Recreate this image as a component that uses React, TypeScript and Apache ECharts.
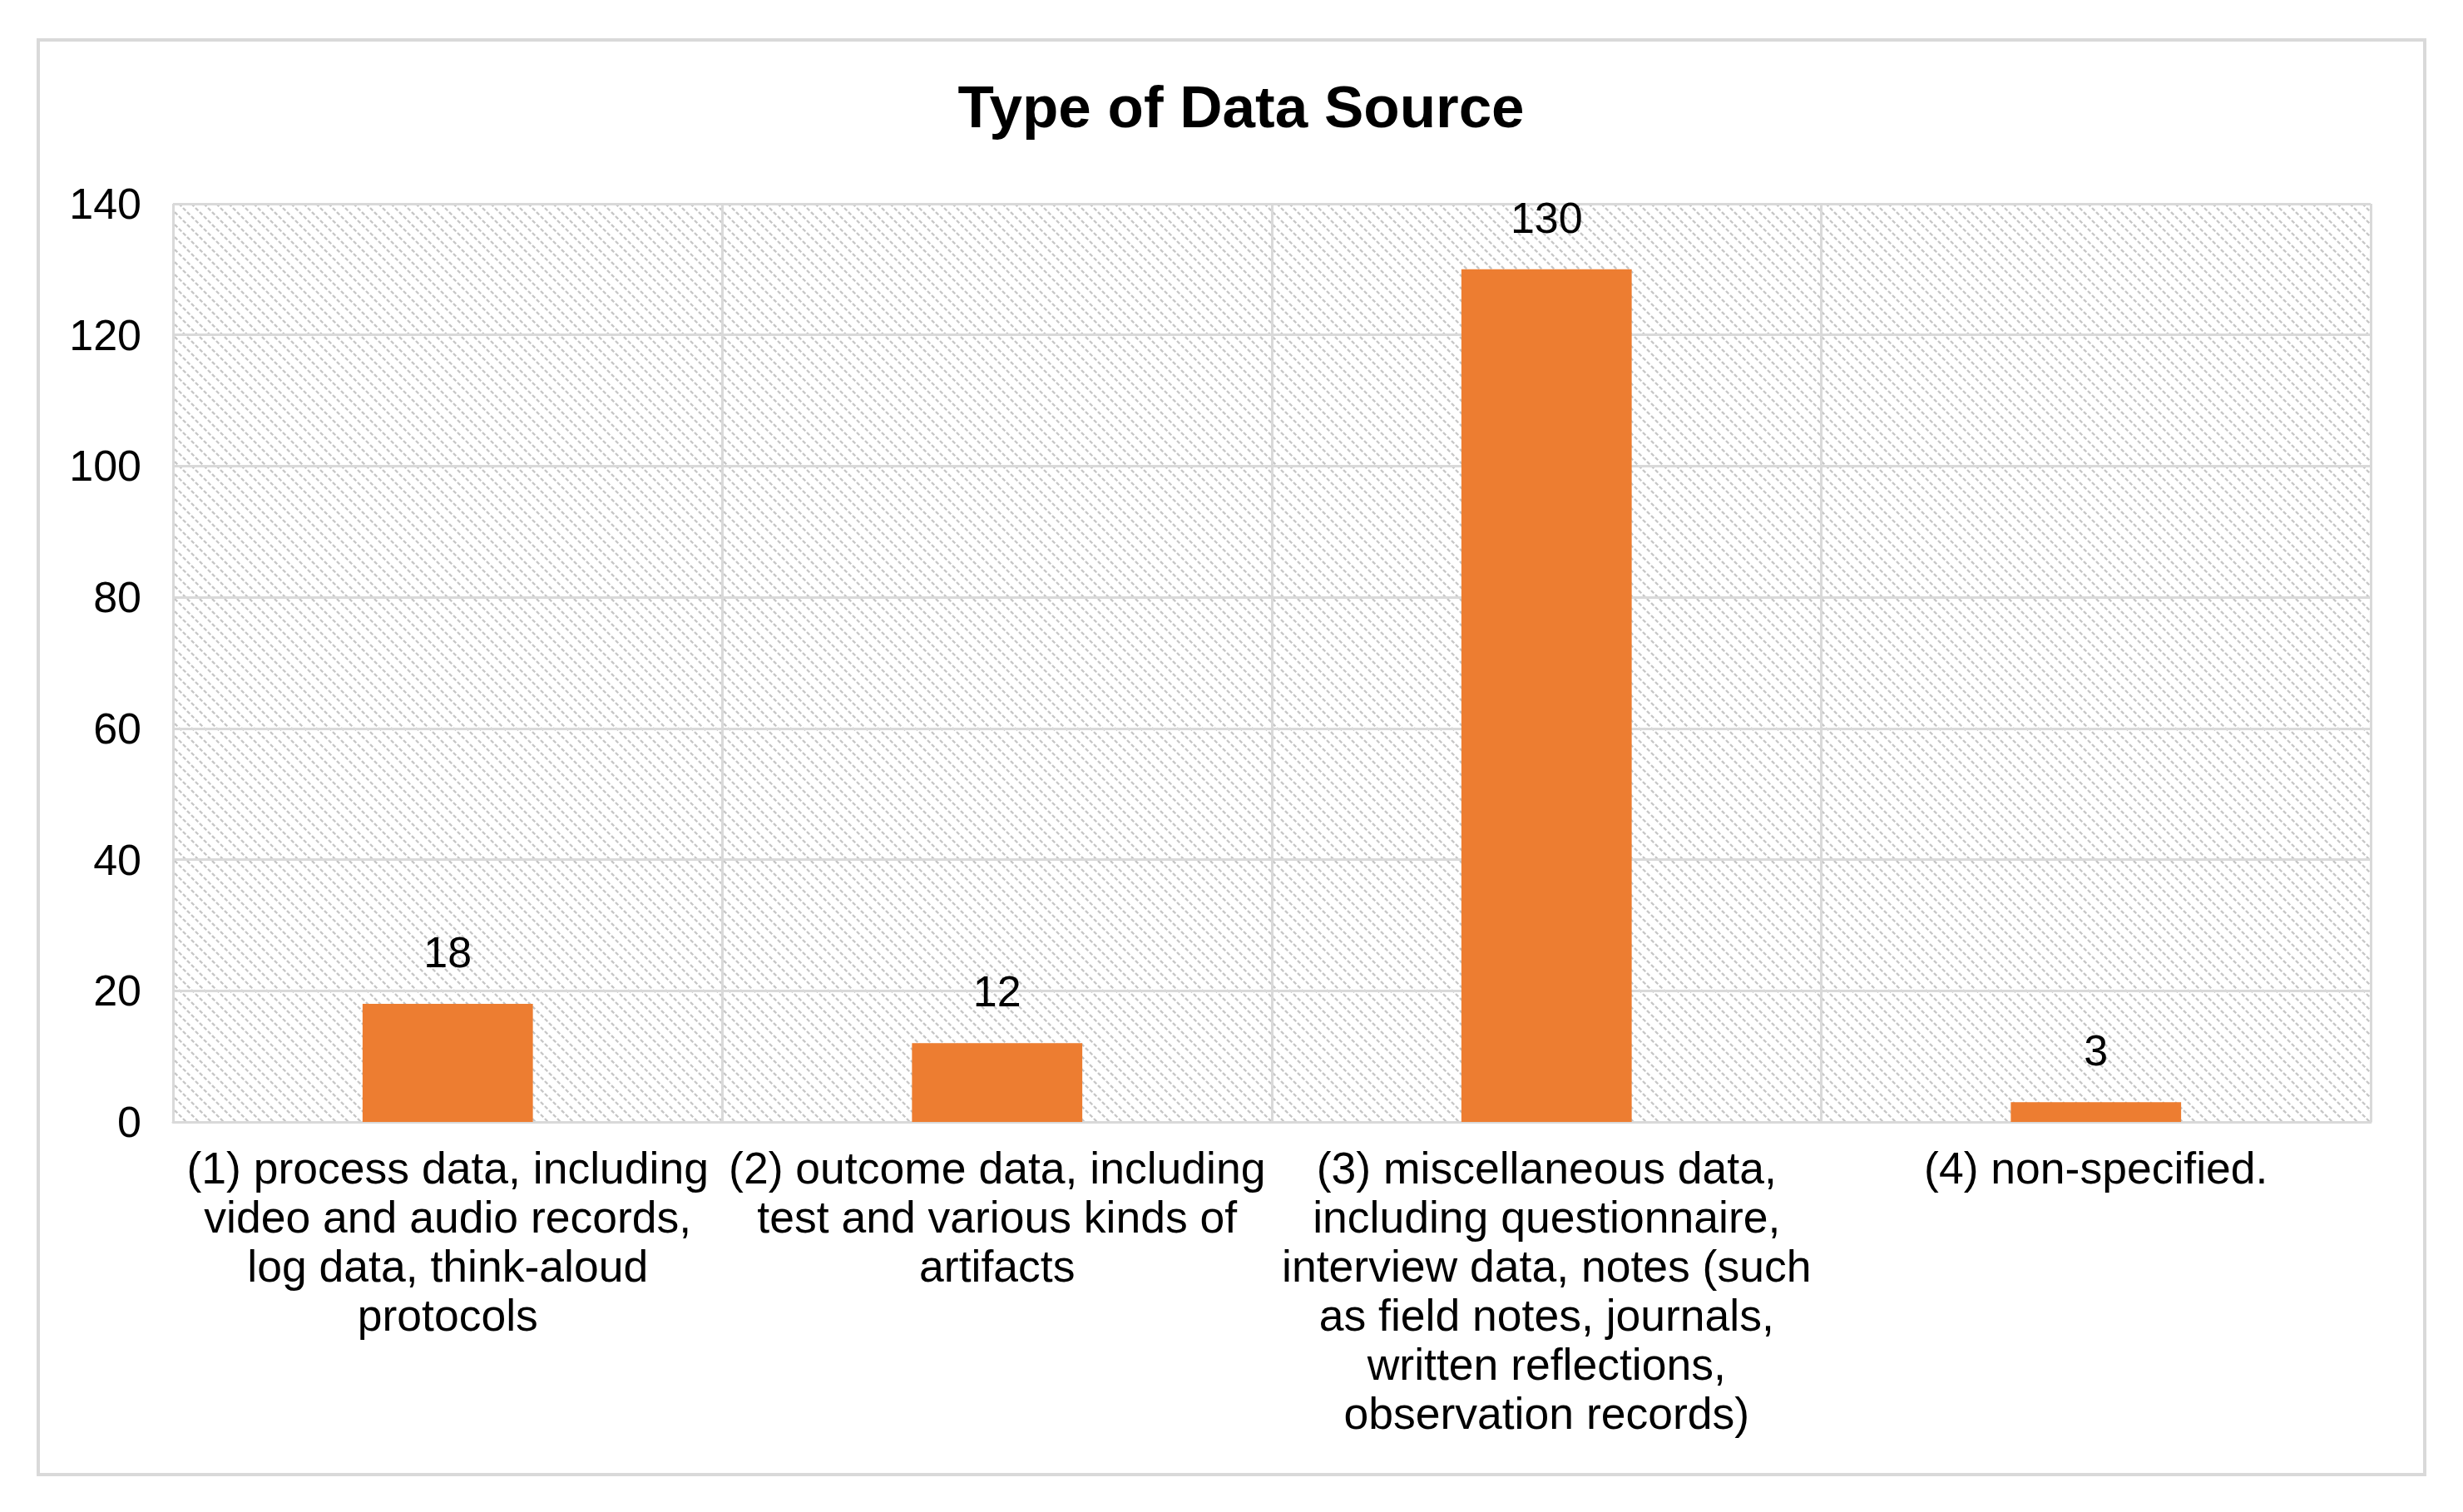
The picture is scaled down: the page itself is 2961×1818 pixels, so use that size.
import React, { useEffect, useRef } from "react";
import * as echarts from "echarts";

const titleText = "Type of Data Source";
const categories = [
  "(1) process data, including\nvideo and audio records,\nlog data, think-aloud\nprotocols",
  "(2) outcome data, including\ntest and various kinds of\nartifacts",
  "(3) miscellaneous data,\nincluding questionnaire,\ninterview data, notes (such\nas field notes, journals,\nwritten reflections,\nobservation records)",
  "(4) non-specified.",
];
const counts = [18, 12, 130, 3];
const yMin = 0;
const yMax = 140;
const yInterval = 20;

const FONT = "'Liberation Sans', Arial, Helvetica, sans-serif";

function makeHatch() {
  const p = 15;
  const c = document.createElement("canvas");
  c.width = p;
  c.height = p;
  const ctx = c.getContext("2d");
  if (ctx) {
    ctx.fillStyle = "#ffffff";
    ctx.fillRect(0, 0, p, p);
    ctx.strokeStyle = "#c6c6c6";
    ctx.lineWidth = 2.4;
    const d = (p * Math.SQRT2) / 6;
    ctx.setLineDash([d * 1.3, d * 0.7]);
    for (let k = -1; k <= 1; k++) {
      ctx.beginPath();
      ctx.moveTo(-p, -p + k * p);
      ctx.lineTo(2 * p, 2 * p + k * p);
      ctx.stroke();
    }
  }
  return { image: c, repeat: "repeat", imageWidth: p, imageHeight: p };
}

export default function App() {
  const ref = useRef<HTMLDivElement>(null);
  useEffect(() => {
    document.body.style.margin = "0";
    if (!ref.current) return;
    const chart = echarts.init(ref.current, null, { renderer: "svg" });
    const hatch = makeHatch();
    const option: any = {
      animation: false,
      backgroundColor: "#ffffff",
      textStyle: { fontFamily: FONT },
      grid: {
        left: 208,
        right: 111,
        top: 245,
        bottom: 469,
        show: true,
        backgroundColor: hatch,
        borderWidth: 0,
      },
      xAxis: {
        type: "category",
        data: categories,
        axisLine: { show: true, lineStyle: { color: "#d9d9d9", width: 3 } },
        axisTick: { show: false },
        splitLine: { show: true, interval: 0, lineStyle: { color: "#d9d9d9", width: 3 } },
        axisLabel: {
          interval: 0,
          fontSize: 53.5,
          lineHeight: 59,
          color: "#000000",
          margin: 26,
          fontFamily: FONT,
          align: "center",
        },
      },
      yAxis: {
        type: "value",
        min: yMin,
        max: yMax,
        interval: yInterval,
        axisLine: { show: false },
        axisTick: { show: false },
        splitLine: { show: true, lineStyle: { color: "#d9d9d9", width: 3 } },
        axisLabel: { fontSize: 52, color: "#000000", margin: 38, fontFamily: FONT },
      },
      series: [
        {
          type: "bar",
          data: counts,
          barWidth: "31%",
          itemStyle: { color: "#ED7D31" },
          label: {
            show: true,
            position: "top",
            distance: 36,
            fontSize: 52,
            color: "#000000",
            fontFamily: FONT,
          },
        },
      ],
      graphic: [
        {
          type: "rect",
          z: -10,
          shape: { x: 46, y: 48, width: 2869, height: 1725 },
          style: { fill: "none", stroke: "#d9d9d9", lineWidth: 4 },
          silent: true,
        },
        {
          type: "text",
          style: {
            text: titleText,
            x: 1492,
            y: 128,
            textAlign: "center",
            textVerticalAlign: "middle",
            fontSize: 71,
            fontWeight: "bold",
            fontFamily: FONT,
            fill: "#000000",
          },
        },
      ],
    };
    chart.setOption(option);
    return () => chart.dispose();
  }, []);
  return <div ref={ref} style={{ width: 2961, height: 1818 }} />;
}
